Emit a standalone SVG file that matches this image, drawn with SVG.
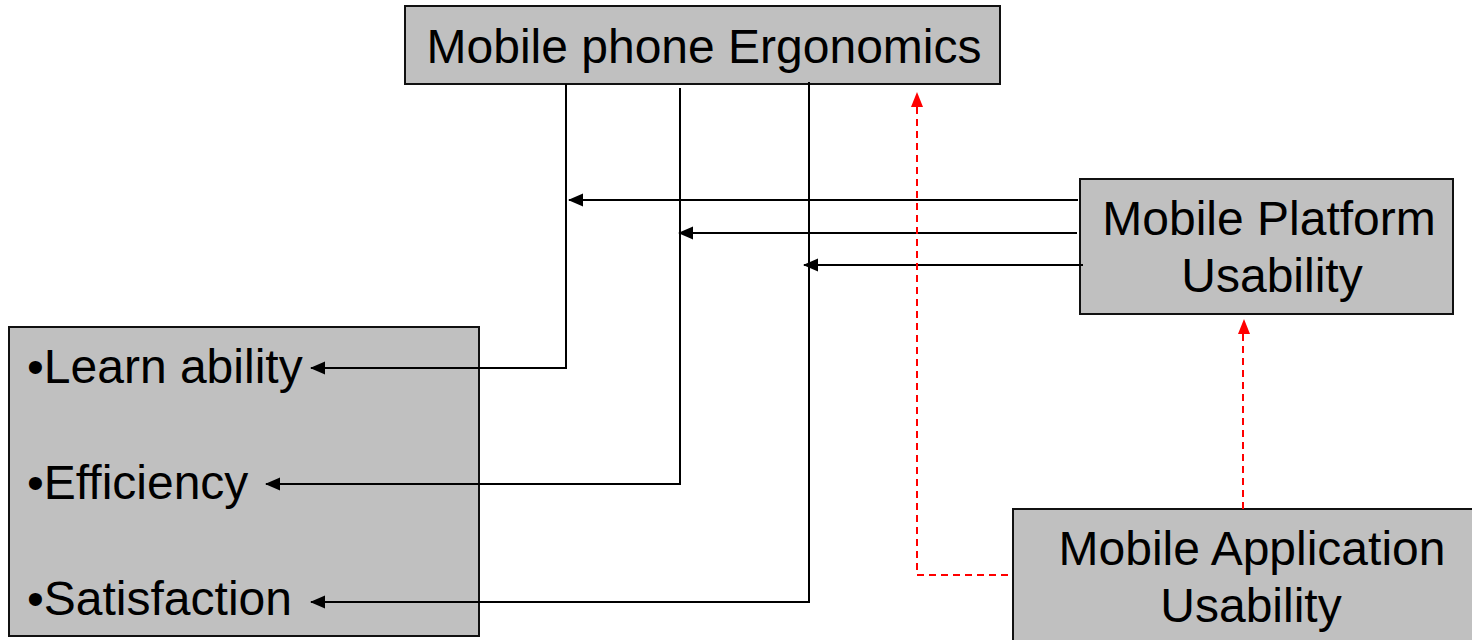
<svg xmlns="http://www.w3.org/2000/svg" width="1472" height="640" viewBox="0 0 1472 640">
  <style>
    .box { fill: #c0c0c0; stroke: #111; stroke-width: 2; }
    .lbl { font-family: "Liberation Sans", Arial, sans-serif; font-size: 48px; fill: #000; }
    .mid { text-anchor: middle; }
    .ln { stroke: #000; stroke-width: 2; fill: none; }
    .red { stroke: #ff0000; stroke-width: 2; fill: none; stroke-dasharray: 7 5; }
  </style>
  <defs>
    <!-- black arrowhead, tip at the end of the line -->
    <marker id="ah" markerWidth="15" markerHeight="14" refX="14" refY="7" orient="auto" markerUnits="userSpaceOnUse">
      <path d="M15,7 L0,0.5 L0,13.5 Z" fill="#000"/>
    </marker>
  </defs>
  <rect width="1472" height="640" fill="#fff"/>

  <g id="ergonomics">
    <rect class="box" x="405" y="6" width="595" height="78"/>
    <text class="lbl mid" x="704" y="63">Mobile phone Ergonomics</text>
  </g>

  <g id="platform">
    <rect class="box" x="1080" y="179" width="373" height="135"/>
    <text class="lbl mid" x="1269" y="235">Mobile Platform</text>
    <text class="lbl mid" x="1272" y="292">Usability</text>
  </g>

  <g id="attributes">
    <rect class="box" x="9" y="327" width="470" height="309"/>
    <text class="lbl" x="27" y="383">•Learn ability</text>
    <text class="lbl" x="27" y="499">•Efficiency</text>
    <text class="lbl" x="27" y="615">•Satisfaction</text>
  </g>

  <g id="application">
    <rect class="box" x="1013" y="509" width="470" height="140"/>
    <text class="lbl mid" x="1252" y="565">Mobile Application</text>
    <text class="lbl mid" x="1251" y="622">Usability</text>
  </g>

  <g id="connectors">
    <!-- ergonomics down to each attribute -->
    <polyline class="ln" points="566,84 566,368 311,368" marker-end="url(#ah)"/>
    <polyline class="ln" points="680,88 680,484 266,484" marker-end="url(#ah)"/>
    <polyline class="ln" points="809,82 809,602 311,602" marker-end="url(#ah)"/>
    <!-- platform into the vertical branches -->
    <line class="ln" x1="1078" y1="200" x2="569" y2="200" marker-end="url(#ah)"/>
    <line class="ln" x1="1077" y1="233" x2="679" y2="233" marker-end="url(#ah)"/>
    <line class="ln" x1="1083" y1="265" x2="804" y2="265" marker-end="url(#ah)"/>
    <!-- application influences, dashed red -->
    <polyline class="red" points="1008,575 917,575 917,106"/>
    <line class="red" x1="1243" y1="509" x2="1243" y2="334"/>
    <path d="M917,92 L911,107 L923,107 Z" fill="#ff0000"/>
    <path d="M1244,319 L1238,334 L1250,334 Z" fill="#ff0000"/>
  </g>
</svg>
